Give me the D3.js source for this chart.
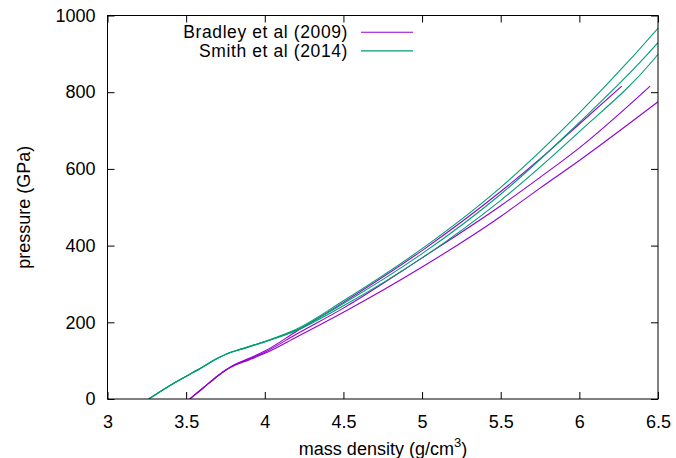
<!DOCTYPE html>
<html>
<head>
<meta charset="utf-8">
<script src="https://cdn.jsdelivr.net/npm/d3@7"></script>
<style>
  body { margin: 0; background: #fff; }
  svg text { font-family: "Liberation Sans", Arial, sans-serif; font-size: 18px; fill: #000; }
</style>
</head>
<body>
<div id="chart"></div>
<script>
// mass density (g/cm^3) vs pressure (GPa)
const bradleyA = [[3.523,0],[3.6,26],[3.7,60],[3.75,75],[3.8,88],[3.9,106],[4.0,125],[4.2,176],[4.5,252],[5.0,387],[5.5,541],[5.75,626],[6.0,717],[6.27,816]];
const bradleyB = [[3.523,0],[3.6,26],[3.7,60],[3.75,75],[3.8,87],[3.9,104],[4.0,122],[4.2,169],[4.5,237],[5.0,368],[5.5,504],[5.75,578],[6.0,655],[6.45,816]];
const bradleyC = [[3.523,0],[3.6,26],[3.7,60],[3.75,75],[3.8,86],[3.9,102],[4.0,119],[4.2,161],[4.5,226],[5.0,344],[5.5,476],[5.75,550],[6.0,622],[6.5,775]];
const smith1 = [[3.262,0],[3.4,36],[3.6,82],[3.7,106],[3.76,118],[3.85,130],[4.0,150],[4.2,182],[4.5,256],[5.0,392],[5.5,552],[6.0,746],[6.32,884],[6.5,967]];
const smith2 = [[3.262,0],[3.4,36],[3.6,82],[3.7,106],[3.76,118],[3.85,130],[4.0,150],[4.2,180],[4.5,249],[5.0,379],[5.5,534],[6.0,721],[6.4,884],[6.5,929]];
const smith3 = [[3.262,0],[3.4,36],[3.6,82],[3.7,106],[3.76,118],[3.85,130],[4.0,149],[4.2,178],[4.5,243],[5.0,368],[5.5,518],[6.0,697],[6.47,884],[6.5,899]];

const bradley = [bradleyA, bradleyB, bradleyC];
const smith = [smith1, smith2, smith3];

const xTicks = [3, 3.5, 4, 4.5, 5, 5.5, 6, 6.5];
const yTicks = [0, 200, 400, 600, 800, 1000];

const W = 676, H = 458;
const margin = {top: 15.5, right: 18, bottom: 59, left: 107.5},
    width = W - margin.left - margin.right,
    height = H - margin.top - margin.bottom;

const x = d3.scaleLinear().domain([3, 6.5]).range([0, width]);
const y = d3.scaleLinear().domain([0, 1000]).range([height, 0]);

const svg = d3.select("#chart").append("svg")
    .attr("width", W)
    .attr("height", H);

const g = svg.append("g")
    .attr("transform", "translate(" + margin.left + "," + margin.top + ")");

const tickLen = 7;

// bottom axis with labels, ticks pointing inward
g.append("g")
    .attr("transform", "translate(0," + height + ")")
    .call(d3.axisBottom(x).tickValues(xTicks).tickSize(-tickLen).tickPadding(tickLen + 9).tickFormat(d3.format("")))
    .call(a => a.select(".domain").remove());

// top mirror ticks
g.append("g")
    .call(d3.axisTop(x).tickValues(xTicks).tickSize(-tickLen).tickFormat(""))
    .call(a => a.select(".domain").remove());

// left axis
g.append("g")
    .call(d3.axisLeft(y).tickValues(yTicks).tickSize(-tickLen).tickPadding(tickLen + 5).tickFormat(d3.format("d")))
    .call(a => a.select(".domain").remove());

// right mirror ticks
g.append("g")
    .attr("transform", "translate(" + width + ",0)")
    .call(d3.axisRight(y).tickValues(yTicks).tickSize(-tickLen).tickFormat(""))
    .call(a => a.select(".domain").remove());

g.selectAll(".tick line").attr("stroke", "#000");

const line = d3.line()
    .x(d => x(d[0]))
    .y(d => y(d[1]))
    .curve(d3.curveMonotoneX);

g.append("defs").append("clipPath").attr("id", "clip")
  .append("rect").attr("width", width).attr("height", height);

const plot = g.append("g").attr("clip-path", "url(#clip)");

plot.selectAll(".bradley")
    .data(bradley)
  .join("path")
    .attr("class", "bradley")
    .attr("fill", "none")
    .attr("stroke", "#9400d3")
    .attr("stroke-width", 1.1)
    .attr("d", line);

plot.selectAll(".smith")
    .data(smith)
  .join("path")
    .attr("class", "smith")
    .attr("fill", "none")
    .attr("stroke", "#009e73")
    .attr("stroke-width", 1.1)
    .attr("d", line);

// frame
g.append("rect")
    .attr("width", width)
    .attr("height", height)
    .attr("fill", "none")
    .attr("stroke", "#000")
    .attr("stroke-width", 1);

// legend
const legend = [["Bradley et al (2009)", "#9400d3"], ["Smith et al (2014)", "#009e73"]];
const lg = svg.selectAll(".legend")
    .data(legend)
  .join("g")
    .attr("class", "legend")
    .attr("transform", (d, i) => "translate(0," + (32.3 + i * 18.6) + ")");
lg.append("text")
    .attr("x", 348)
    .attr("dy", "0.35em")
    .attr("text-anchor", "end")
    .style("font-size", "17.5px")
    .style("letter-spacing", "0.6px")
    .text(d => d[0]);
lg.append("line")
    .attr("x1", 361).attr("x2", 413)
    .attr("stroke", d => d[1])
    .attr("stroke-width", 1.1);

// axis titles
const xl = svg.append("text")
    .attr("x", 383)
    .attr("y", 455)
    .attr("text-anchor", "middle");
xl.append("tspan").text("mass density (g/cm");
xl.append("tspan").attr("dy", -8).style("font-size", "13px").text("3");
xl.append("tspan").attr("dy", 8).text(")");

svg.append("text")
    .attr("transform", "translate(30," + (margin.top + height / 2) + ") rotate(-90)")
    .attr("text-anchor", "middle")
    .text("pressure (GPa)");
</script>
</body>
</html>
